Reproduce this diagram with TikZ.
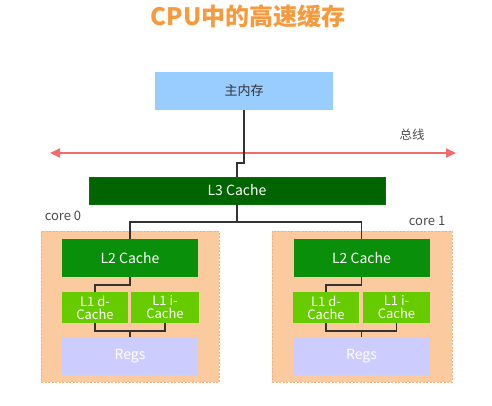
\documentclass[tikz,border=0pt]{standalone}
\usepackage{fontspec}
\setmainfont{Noto Sans CJK SC}
\usetikzlibrary{arrows.meta,calc}
\definecolor{titleor}{HTML}{F79A3E}
\definecolor{memblue}{HTML}{99CCFF}
\definecolor{lthree}{HTML}{006400}
\definecolor{ltwo}{HTML}{0A8F0A}
\definecolor{lone}{HTML}{66CC00}
\definecolor{regcol}{HTML}{CCCCFF}
\definecolor{corefill}{HTML}{FBCB9F}
\definecolor{coreedge}{HTML}{F5B07A}
\definecolor{busred}{HTML}{F06B6B}
\definecolor{wire}{HTML}{333333}
\begin{document}
\begin{tikzpicture}[x=1pt,y=-1pt,
  box/.style={inner sep=0pt,align=center,font=\fontsize{13}{14}\selectfont},
  corebox/.style={box,fill=corefill,draw=coreedge,dashed,dash pattern=on 2pt off 1.5pt},
  wireline/.style={draw=wire,line width=1.7pt}]
\useasboundingbox (0,0) rectangle (492,405);
\fill[white] (0,0) rectangle (492,405);
\node[font=\fontsize{24}{26}\selectfont\bfseries,text=titleor] (title) at (248,16) {CPU中的高速缓存};
\node[box,fill=memblue,text=black!80,minimum width=178pt,minimum height=38pt] (mem) at (244,91) {主内存};
\node[box,fill=lthree,draw=green!45!black,line width=0.6pt,text=white,font=\fontsize{14}{15}\selectfont,minimum width=296pt,minimum height=27pt] (L3) at (237,190.5) {L3 Cache};
\node[box,text=black!70,font=\fontsize{12.5}{13}\selectfont] (buslabel) at (412,135) {总线};
\coordinate (busL) at (50,153);
\coordinate (busR) at (456,153);
\draw[busred,line width=2pt,{Triangle[length=10pt,width=9pt]}-{Triangle[length=10pt,width=9pt]}] (busL) -- (busR);
\node[corebox,minimum width=178pt,minimum height=151pt] (corea) at (130,306.5) {};
\node[corebox,minimum width=180pt,minimum height=151pt] (coreb) at (362,306.5) {};
\node[box,text=black!70] (corealabel) at (63,216) {core 0};
\node[box,text=black!70] (coreblabel) at (427,221) {core 1};
\foreach \n/\cx/\dx/\ix/\iw in {a/130/95/165/68, b/361.5/326/396.5/67}{
  \node[box,fill=ltwo,text=white,font=\fontsize{14}{15}\selectfont,minimum width=136pt,minimum height=38pt] (L2\n) at (\cx,258) {L2 Cache};
  \node[box,fill=lone,text=white,font=\fontsize{13}{13}\selectfont,minimum width=66pt,minimum height=31pt] (L1d\n) at (\dx,307.5) {L1 d-\\Cache};
  \node[box,fill=lone,text=white,font=\fontsize{13}{13}\selectfont,minimum width=\iw pt,minimum height=31pt] (L1i\n) at (\ix,307.5) {L1 i-\\Cache};
  \node[box,fill=regcol,text=white,font=\fontsize{14}{15}\selectfont,minimum width=136pt,minimum height=38pt] (Regs\n) at (\cx,356) {Regs};
}
\coordinate (memjog) at ($(mem.south)+(0,53)$);
\draw[wireline] (mem.south) -- (memjog) -| (L3.north);
\coordinate (split) at ($(L3.south)+(0,18)$);
\draw[wireline] (split) -| (L2a.north);
\draw[wireline] (L3.south) -- (split) -| (L2b.north);
\foreach \n in {a,b}{
  \draw[wireline] (L2\n.south) -- ++(0,8) -| (L1d\n.north);
  \coordinate (bar\n) at ($(L1d\n.south)+(0,8)$);
  \draw[wireline] (L1d\n.south) -- (bar\n) -| (L1i\n.south);
  \draw[wireline] (Regs\n.north) -- (Regs\n.north |- bar\n);
}
\end{tikzpicture}
\end{document}
